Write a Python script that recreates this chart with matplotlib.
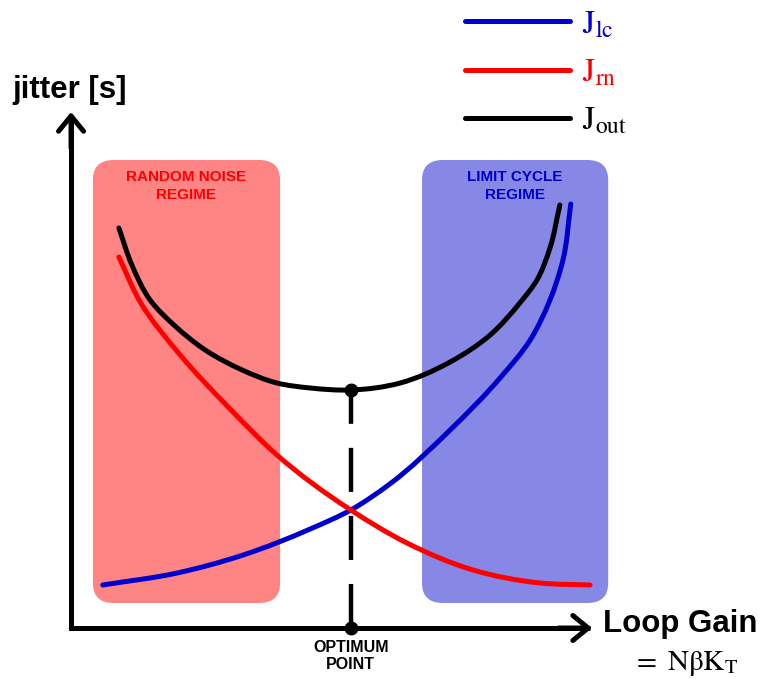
import matplotlib
matplotlib.use("Agg")
import numpy as np
import matplotlib.pyplot as plt
from matplotlib.patches import FancyBboxPatch, PathPatch
from matplotlib.path import Path
from matplotlib.lines import Line2D

plt.rcParams["mathtext.fontset"] = "stix"
plt.rcParams["lines.scale_dashes"] = False

# ---- curve samples (loop gain, jitter) in arbitrary units ----
loop_gain_lc = [0.63, 2.06, 3.33, 4.62, 5.40, 6.15, 7.31, 8.27, 8.85, 9.23,
                9.48, 9.63]
jitter_lc = [0.86, 1.10, 1.46, 1.98, 2.36, 2.88, 3.96, 5.00, 5.76, 6.56,
             7.36, 8.48]

loop_gain_rn = [0.94, 1.35, 2.12, 3.08, 3.98, 5.40, 6.48, 7.75, 9.04, 10.0]
jitter_rn = [7.42, 6.52, 5.46, 4.38, 3.46, 2.36, 1.70, 1.16, 0.90, 0.86]

loop_gain_out = [0.94, 1.19, 1.54, 2.02, 2.60, 3.27, 3.98, 4.62, 5.40, 6.35,
                 7.31, 8.08, 8.65, 8.98, 9.23, 9.42]
jitter_out = [8.00, 7.26, 6.56, 6.04, 5.56, 5.18, 4.90, 4.80, 4.76, 4.90,
              5.32, 5.86, 6.50, 6.96, 7.60, 8.46]

optimum_gain = 5.40
optimum_jitter = 4.76

# regime shading extents (loop gain span, jitter span)
rn_regime = (0.44, 4.04)
lc_regime = (6.77, 10.35)
regime_jitter = (0.50, 9.36)

series_labels = [r"$\mathrm{J}_{\mathrm{lc}}$", r"$\mathrm{J}_{\mathrm{rn}}$",
                 r"$\mathrm{J}_{\mathrm{out}}$"]

# ---- colours ----
C_LC = "#0000CC"
C_RN = "#FF0000"
C_OUT = "#000000"
C_RN_BOX = "#FF8585"
C_LC_BOX = "#8787E6"
LW = 3.6


def smooth_path(xs, ys):
    """Cubic Bezier path through the samples (chord-length Hermite)."""
    p = np.column_stack([xs, ys]).astype(float)
    d = np.hypot(*np.diff(p, axis=0).T)
    u = np.diff(p, axis=0) / d[:, None]
    tang = np.empty_like(p)
    tang[0], tang[-1] = u[0], u[-1]
    for i in range(1, len(p) - 1):
        w0, w1 = d[i], d[i - 1]
        tang[i] = (u[i - 1] * w0 + u[i] * w1) / (w0 + w1)
    verts = [p[0]]
    codes = [Path.MOVETO]
    for i in range(len(p) - 1):
        verts += [p[i] + tang[i] * d[i] / 3, p[i + 1] - tang[i + 1] * d[i] / 3,
                  p[i + 1]]
        codes += [Path.CURVE4] * 3
    return Path(verts, codes)


fig = plt.figure(figsize=(7.62, 6.79), dpi=100)
ax = fig.add_axes([0, 0, 1, 1])
ax.set_xlim(-70 / 52, 692 / 52)
ax.set_ylim(-51 / 50, 628 / 50)
ax.axis("off")

# regime boxes
for (x0, x1), col in ((rn_regime, C_RN_BOX), (lc_regime, C_LC_BOX)):
    box = FancyBboxPatch((x0, regime_jitter[0]), x1 - x0,
                         regime_jitter[1] - regime_jitter[0],
                         boxstyle="round,pad=0,rounding_size=0.4",
                         mutation_aspect=52 / 50 * 0.96,
                         facecolor=col, edgecolor="none", zorder=1)
    ax.add_patch(box)

ax.text(sum(rn_regime) / 2, 8.84, "RANDOM NOISE\nREGIME", color=C_RN,
        fontsize=11, fontweight="bold", family="Liberation Sans",
        ha="center", va="center", linespacing=1.35, zorder=2)
ax.text(sum(lc_regime) / 2, 8.84, "LIMIT CYCLE\nREGIME", color=C_LC,
        fontsize=11, fontweight="bold", family="Liberation Sans",
        ha="center", va="center", linespacing=1.35, zorder=2)

# axes: L-shaped stroke plus open arrow heads
ax.plot([0.02, 0.02, 10.0], [10.25, 0.0, 0.0], color="black", lw=3.6,
        solid_joinstyle="miter", solid_capstyle="butt", zorder=5)
head_kw = dict(arrowstyle="->,head_length=0.55,head_width=0.45",
               lw=3.6, color="black", shrinkA=0, shrinkB=0,
               mutation_scale=20, capstyle="round", joinstyle="round")
ax.annotate("", xy=(0.02, 10.32), xytext=(0.02, 9.6), arrowprops=head_kw,
            zorder=5)
ax.annotate("", xy=(10.04, 0.0), xytext=(9.4, 0.0), arrowprops=head_kw,
            zorder=5)

# optimum marker line
ax.plot([optimum_gain, optimum_gain], [0, optimum_jitter], color="black",
        lw=3.2, dashes=(31.7, 17.3), dash_capstyle="butt", zorder=4)
ax.plot([optimum_gain, optimum_gain], [0, optimum_jitter], "o", color="black",
        ms=9, zorder=6)

# curves
for (xs, ys), col, z in (((loop_gain_lc, jitter_lc), C_LC, 3.0),
                         ((loop_gain_rn, jitter_rn), C_RN, 3.2),
                         ((loop_gain_out, jitter_out), C_OUT, 3.4)):
    ax.add_patch(PathPatch(smooth_path(xs, ys), fill=False, edgecolor=col,
                           lw=LW, capstyle="round", joinstyle="round",
                           zorder=z))

handles = [Line2D([], [], color=c, lw=LW, solid_capstyle="round")
           for c in (C_LC, C_RN, C_OUT)]
ax.legend(handles, series_labels, loc="upper left",
          bbox_to_anchor=(465 / 762, 1 - 7 / 679),
          bbox_transform=fig.transFigure, frameon=False, fontsize=24,
          handlelength=3.15, handletextpad=0.36, labelspacing=0.46,
          borderpad=0, borderaxespad=0, labelcolor="linecolor")

# axis titles
ax.text(-70 / 52 + 12 / 52, (628 - 90) / 50, "jitter [s]", fontsize=22.5,
        fontweight="bold", family="Liberation Sans", ha="left", va="center")
ax.text((603 - 70) / 52, (628 - 624) / 50, "Loop Gain", fontsize=22.5,
        fontweight="bold", family="Liberation Sans", ha="left", va="center")
ax.text((632 - 70) / 52, (628 - 664) / 50,
        r"$=\ \mathrm{N\beta K}_{\mathrm{T}}$", fontsize=21,
        ha="left", va="center")
ax.text(optimum_gain, -0.56, "OPTIMUM\nPOINT", fontsize=11.5,
        fontweight="bold", family="Liberation Sans", ha="center",
        va="center", linespacing=1.2)

fig.savefig("out.png", dpi=100)
